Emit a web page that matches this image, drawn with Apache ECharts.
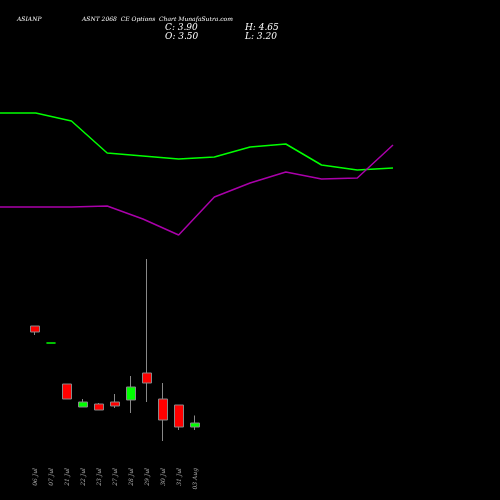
<!DOCTYPE html><html><head><script src="https://cdn.jsdelivr.net/npm/echarts@6/dist/echarts.min.js"></script></head>
<body style="margin:0;background:#000"><div id="c" style="width:500px;height:500px"></div><script>
const categories=['06 Jul','07 Jul','21 Jul','22 Jul','23 Jul','27 Jul','28 Jul','29 Jul','30 Jul','31 Jul','03 Aug'];
const opens=[13.6,11.9,7.8,5.5,5.8,6.0,6.2,8.9,6.3,5.7,3.5];
const closes=[13.0,11.9,6.3,6.0,5.2,5.6,7.5,7.9,4.2,3.5,3.9];
const lows=[12.7,11.9,6.3,5.5,5.2,5.4,4.9,6.0,2.1,3.2,3.2];
const highs=[13.6,11.9,7.8,6.3,5.9,6.8,8.6,20.3,7.9,5.7,4.65];
const lineX=['1','2','3','4','5','6','7','8','9','10','11','12'];
const greenLine=[387,387,379,347,344,341,343,353,356,335,330,332];
const purpleLine=[293,293,293,294,281,265,303,317,328,321,322,355];
const ch=echarts.init(document.getElementById('c'));
const f={fontFamily:'DejaVu Serif',fontStyle:'italic',color:'#fff',fontWeight:'normal'};
ch.setOption({backgroundColor:'#000',animation:false,
title:[{text:'ASIANP',left:12,top:9,textStyle:{...f,fontSize:6}},
{text:'ASNT 2068  CE Options  Chart MunafaSutra.com',left:77,top:9,textStyle:{...f,fontSize:6}},
{text:'C: 3.90',left:160,top:14,textStyle:{...f,fontSize:9}},
{text:'O: 3.50',left:160,top:23,textStyle:{...f,fontSize:9}},
{text:'H: 4.65',left:240,top:14,textStyle:{...f,fontSize:9}},
{text:'L: 3.20',left:240,top:23,textStyle:{...f,fontSize:9}}],
grid:[{left:27,width:176,top:212,height:250},{left:0,width:393,top:0,height:500}],
xAxis:[{gridIndex:0,type:'category',data:categories,axisLine:{show:false},axisTick:{show:false},
axisLabel:{rotate:90,color:'#aaa',fontSize:6,fontFamily:'DejaVu Serif',fontStyle:'italic',margin:6}},
{gridIndex:1,type:'category',data:lineX,boundaryGap:false,show:false}],
yAxis:[{gridIndex:0,min:0,max:25,show:false},{gridIndex:1,min:0,max:500,show:false}],
series:[{type:'candlestick',xAxisIndex:0,yAxisIndex:0,barWidth:10,
data:categories.map((c,i)=>{const v=[opens[i],closes[i],lows[i],highs[i]];
 return opens[i]===closes[i]?{value:v,itemStyle:{borderColor:'#00ff00',borderColor0:'#00ff00',borderColorDoji:'#00ff00'}}:v;}),
itemStyle:{color:'#00ff00',color0:'#ff0000',borderColor:'#888',borderColor0:'#888',borderWidth:1}},
{type:'line',xAxisIndex:1,yAxisIndex:1,data:greenLine,symbol:'none',lineStyle:{color:'#00ff00',width:1.5}},
{type:'line',xAxisIndex:1,yAxisIndex:1,data:purpleLine,symbol:'none',lineStyle:{color:'#aa00aa',width:1.5}}]});
</script></body></html>
